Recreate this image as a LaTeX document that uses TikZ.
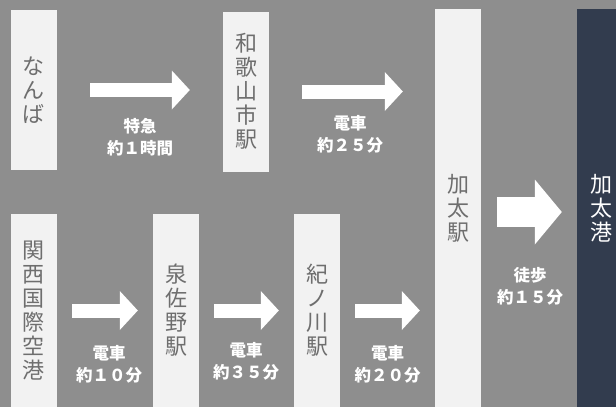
\documentclass[tikz,border=0pt]{standalone}
\usepackage{fontspec}
\newfontfamily\jpfont{Noto Sans CJK JP}
\usetikzlibrary{arrows.meta}

\definecolor{bggray}{HTML}{8E8E8E}
\definecolor{boxwhite}{HTML}{F2F2F2}
\definecolor{boxtext}{HTML}{6E6E6E}
\definecolor{portnavy}{HTML}{323C4E}

\tikzset{
  stationbox/.style={fill=boxwhite, text=boxtext, minimum width=46pt, inner sep=0pt,
    align=center, font=\jpfont\fontsize{22}{24}\selectfont},
  portbox/.style={stationbox, fill=portnavy, text=white, minimum width=48pt},
  flowarrow/.style={draw=white, line width=14pt,
    -{Triangle[width=39pt, length=18pt, line width=0pt]}},
  bigarrow/.style={draw=white, line width=30pt,
    -{Triangle[width=65pt, length=27pt, line width=0pt]}},
  timelabel/.style={text=white, inner sep=0pt, align=center,
    font=\jpfont\bfseries\fontsize{16.5}{22}\selectfont}
}

\begin{document}
\begin{tikzpicture}[x=1pt,y=-1pt]
  \fill[bggray] (0,0) rectangle (616,407);
  \useasboundingbox (0,0) rectangle (616,407);

  % stations
  \node (nanba) [stationbox, minimum height=160pt] at (34,90) {な\\ん\\ば};
  \node (wakayama) [stationbox, minimum height=160pt] at (246,91.5) {和\\歌\\山\\市\\駅};
  \node (kabuta) [stationbox, minimum height=398pt] at (458,208) {加\\太\\駅};
  \node (port) [portbox, minimum height=398pt] at (601,208) {加\\太\\港};
  \node (kansai) [stationbox, minimum height=193pt] at (34,310.5) {関\\西\\国\\際\\空\\港};
  \node (izumisano) [stationbox, minimum height=193pt] at (176,310.5) {泉\\佐\\野\\駅};
  \node (kinokawa) [stationbox, minimum height=193pt] at (317,310.5) {紀\\ノ\\川\\駅};

  % arrows
  \draw[flowarrow, shorten <=33pt, shorten >=33pt] (nanba.east) -- (nanba.east -| wakayama.west);
  \draw[flowarrow, shorten <=33pt, shorten >=32pt] (wakayama.east) -- (wakayama.east -| kabuta.west);
  \draw[flowarrow, shorten <=15pt, shorten >=15pt] (kansai) -- (izumisano);
  \draw[flowarrow, shorten <=15pt, shorten >=15pt] (izumisano) -- (kinokawa);
  \draw[flowarrow, shorten <=15pt, shorten >=15pt] (kinokawa.east) -- (kinokawa.east -| kabuta.west);
  \draw[bigarrow, shorten <=16pt, shorten >=15pt] ([yshift=-4pt]kabuta.east) -- ([yshift=-4pt]kabuta.east -| port.west);

  % times
  \node (t1) [timelabel] at (140,137) {特急\\約１時間};
  \node (t2) [timelabel] at (350,134) {電車\\約２５分};
  \node (t3) [timelabel] at (109,364) {電車\\約１０分};
  \node (t4) [timelabel] at (246,361) {電車\\約３５分};
  \node (t5) [timelabel] at (387.5,364) {電車\\約２０分};
  \node (t6) [timelabel] at (530,286) {徒歩\\約１５分};
\end{tikzpicture}
\end{document}
